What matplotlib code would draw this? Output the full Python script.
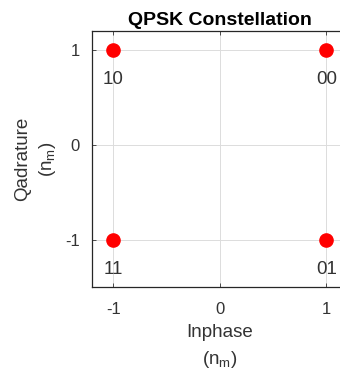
import matplotlib
matplotlib.use("Agg")
import matplotlib.pyplot as plt

# QPSK symbols and their Gray-coded bit labels
inphase = [1, -1, -1, 1]
quadrature = [1, 1, -1, -1]
bit_labels = ["00", "10", "11", "01"]

x_ticks = [-1, 0, 1]
y_ticks = [-1, 0, 1]

plt.rcParams["font.family"] = ["Liberation Sans", "DejaVu Sans"]
plt.rcParams["axes.unicode_minus"] = False
plt.rcParams["mathtext.fontset"] = "custom"
plt.rcParams["mathtext.rm"] = "Liberation Sans"

fig = plt.figure(figsize=(3.4, 3.79), dpi=100)
ax = fig.add_axes([0.2706, 0.2427, 0.752, 0.6755])

ax.plot(inphase, quadrature, "o", color="#ff0000", markersize=9.5, zorder=3)
for x, y, lbl in zip(inphase, quadrature, bit_labels):
    ax.text(x, y - 0.31, lbl, ha="center", va="center", fontsize=13.5, color="#333333")

ax.set_xlim(-1.2, 1.2)
ax.set_ylim(-1.5, 1.2)
ax.set_xticks(x_ticks)
ax.set_yticks(y_ticks)
ax.grid(True, color="#dcdcdc", linewidth=0.7)
ax.set_axisbelow(True)
ax.tick_params(direction="in", length=3, width=0.6, colors="#333333",
               labelsize=12, top=True, right=True)
ax.tick_params(axis="x", pad=11)
ax.tick_params(axis="y", pad=9)
for side in ax.spines.values():
    side.set_color("#262626")
    side.set_linewidth(0.9)

ax.set_title("QPSK Constellation", fontsize=14, fontweight="bold", color="black", pad=4)
ax.set_xlabel("Inphase\n$(\\mathregular{n_m})$", fontsize=13.5, color="#333333",
              labelpad=5, linespacing=1.5)
ax.set_ylabel("Qadrature\n$(\\mathregular{n_m})$", fontsize=13.5, color="#333333",
              labelpad=5, linespacing=1.4)

fig.savefig("out.png", dpi=100)
